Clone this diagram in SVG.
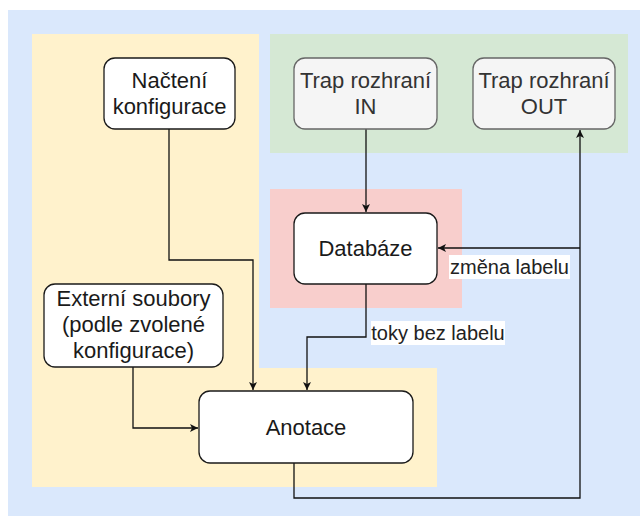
<svg xmlns="http://www.w3.org/2000/svg" width="640" height="516" viewBox="0 0 640 516">
  <style>
    .node { fill: #ffffff; stroke: #1a1a1a; stroke-width: 1.3; }
    .grey { fill: #f5f5f5; stroke: #666666; stroke-width: 1.3; }
    .lbl { font-family: "Liberation Sans", Arial, sans-serif; font-size: 22px; fill: #1a1a1a; text-anchor: middle; }
    .lbl-grey { fill: #333333; }
    .edge { fill: none; stroke: #111111; stroke-width: 1.3; }
    .elbl { font-family: "Liberation Sans", Arial, sans-serif; font-size: 20px; fill: #222222; text-anchor: middle; }
  </style>
  <defs>
    <marker id="arrow" viewBox="0 0 10 10" refX="10" refY="5" markerWidth="8" markerHeight="8" markerUnits="userSpaceOnUse" orient="auto">
      <path d="M0,0 L10,5 L0,10 L2.5,5 Z" fill="#111111"/>
    </marker>
  </defs>

  <!-- background regions -->
  <g id="regions">
    <rect x="8" y="10" width="632" height="506" fill="#dae8fc"/>
    <path d="M32,34 H259 V368 H437 V487 H32 Z" fill="#fff2cc"/>
    <rect x="270" y="34" width="358" height="119" fill="#d5e8d4"/>
    <rect x="270" y="189" width="192" height="119" fill="#f8cecc"/>
  </g>

  <!-- connectors -->
  <g id="connectors">
    <path class="edge" d="M169,129 V260 H253 V390" marker-end="url(#arrow)"/>
    <path class="edge" d="M133,367 V428 H198" marker-end="url(#arrow)"/>
    <path class="edge" d="M366,129 V212" marker-end="url(#arrow)"/>
    <path class="edge" d="M366,284 V337 H307 V390" marker-end="url(#arrow)"/>
    <path class="edge" d="M294,463 V498 H580 V130" marker-end="url(#arrow)"/>
    <path class="edge" d="M580,248 H438" marker-end="url(#arrow)"/>
    <rect x="449" y="255" width="121" height="24" fill="#ffffff"/>
    <text class="elbl" x="509.5" y="274">změna labelu</text>
    <rect x="371" y="321" width="134" height="24" fill="#ffffff"/>
    <text class="elbl" x="438" y="340">toky bez labelu</text>
  </g>

  <g id="nacteni">
    <rect class="node" x="104" y="58" width="131" height="71" rx="11"/>
    <text class="lbl" x="169.5" y="88">Načtení</text>
    <text class="lbl" x="169.5" y="114">konfigurace</text>
  </g>

  <g id="trap-in">
    <rect class="grey" x="294" y="58" width="143" height="71" rx="11"/>
    <text class="lbl lbl-grey" x="365.5" y="88">Trap rozhraní</text>
    <text class="lbl lbl-grey" x="365.5" y="114">IN</text>
  </g>

  <g id="trap-out">
    <rect class="grey" x="473" y="58" width="142" height="71" rx="11"/>
    <text class="lbl lbl-grey" x="544" y="88">Trap rozhraní</text>
    <text class="lbl lbl-grey" x="544" y="114">OUT</text>
  </g>

  <g id="databaze">
    <rect class="node" x="294" y="213" width="143" height="71" rx="11"/>
    <text class="lbl" x="365.5" y="256">Databáze</text>
  </g>

  <g id="externi">
    <rect class="node" x="44" y="284" width="179" height="83" rx="11"/>
    <text class="lbl" x="133.5" y="306">Externí soubory</text>
    <text class="lbl" x="133.5" y="332">(podle zvolené</text>
    <text class="lbl" x="133.5" y="358">konfigurace)</text>
  </g>

  <g id="anotace">
    <rect class="node" x="199" y="391" width="214" height="72" rx="11"/>
    <text class="lbl" x="306" y="435">Anotace</text>
  </g>
</svg>
